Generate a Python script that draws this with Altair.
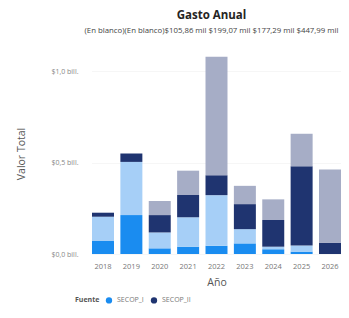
import altair as alt
import pandas as pd

years = ["2018", "2019", "2020", "2021", "2022", "2023", "2024", "2025", "2026"]
secop_i = [0.071, 0.213, 0.031, 0.040, 0.045, 0.058, 0.026, 0.013, 0.0]
secop_i_b = [0.133, 0.291, 0.087, 0.161, 0.277, 0.078, 0.014, 0.033, 0.0]
secop_ii = [0.022, 0.046, 0.095, 0.122, 0.109, 0.137, 0.146, 0.434, 0.062]
secop_ii_b = [0.0, 0.0, 0.077, 0.133, 0.648, 0.100, 0.113, 0.178, 0.401]

series_names = ["SECOP_I", "SECOP_I ", "SECOP_II", "SECOP_II "]
series_values = [secop_i, secop_i_b, secop_ii, secop_ii_b]
colors = ["#1A8CF0", "#A6CFF7", "#1F3470", "#A6ADC6"]

title_text = "Gasto Anual"
subtitle_text = "(En blanco)(En blanco)$105,86 mil $199,07 mil $177,29 mil $447,99 mil"

rows = []
for k, (name, vals) in enumerate(zip(series_names, series_values)):
    for y, v in zip(years, vals):
        rows.append({"Año": y, "Fuente": name, "Valor Total": v, "orden": k})
df = pd.DataFrame(rows)

FONT = "Open Sans"

chart = alt.Chart(df).mark_bar().encode(
    x=alt.X("Año:N", sort=years,
            scale=alt.Scale(paddingInner=0.225, paddingOuter=0),
            axis=alt.Axis(labelAngle=0, ticks=False, domain=False, labelPadding=8,
                          labelFontSize=7.5, labelColor="#777777", titleFontSize=10.5,
                          titleColor="#555555", titleFontWeight="normal", titlePadding=8,
                          labelFont=FONT, titleFont=FONT)),
    y=alt.Y("Valor Total:Q", stack="zero",
            scale=alt.Scale(domain=[0, 1.1], nice=False),
            axis=alt.Axis(values=[0, 0.5, 1.0], ticks=False, domain=False,
                          labelExpr="'$' + replace(format(datum.value, '.1f'), '.', ',') + ' bill.'",
                          labelFontSize=7, labelColor="#888888", labelPadding=14,
                          gridColor="#EDEDED", gridDash=[1, 1],
                          titleFontSize=10.5, titleColor="#555555", titleFontWeight="normal",
                          titlePadding=24, labelFont=FONT, titleFont=FONT)),
    color=alt.Color("Fuente:N",
                    scale=alt.Scale(domain=series_names, range=colors),
                    legend=alt.Legend(values=["SECOP_I", "SECOP_II"], orient="none",
                                      legendX=-17, legendY=243, direction="horizontal",
                                      titleOrient="left", symbolType="circle",
                                      symbolSize=40, labelFontSize=7, titleFontSize=7,
                                      titleFontWeight="bold", labelColor="#777777",
                                      titleColor="#555555", columnPadding=6,
                                      labelFont=FONT, titleFont=FONT)),
    order=alt.Order("orden:Q"),
).properties(
    width=249,
    height=201,
    title=alt.TitleParams(title_text, subtitle=subtitle_text, anchor="middle",
                          fontSize=11.5, fontWeight="bold", color="#252423", font=FONT,
                          subtitleFontSize=7.8, subtitleColor="#444444", subtitleFont=FONT,
                          subtitlePadding=6, offset=18, dx=-5),
    autosize=alt.AutoSizeParams(type="none"),
    padding={"left": 84, "top": 45, "right": 0, "bottom": 56},
).configure_view(stroke=None)

chart.save("out.html", embed_options={"renderer": "svg", "actions": False})
